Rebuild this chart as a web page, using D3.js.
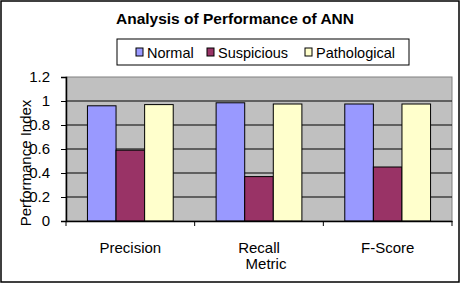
<!DOCTYPE html>
<html>
<head>
<meta charset="utf-8">
<style>
  body { margin: 0; background: #fff; }
  svg text { font-family: "Liberation Sans", Arial, sans-serif; fill: #000; }
</style>
</head>
<body>
<svg width="461" height="284"></svg>
<script src="https://cdn.jsdelivr.net/npm/d3@7/dist/d3.min.js"></script>
<script>
var metrics = ["Precision", "Recall", "F-Score"];
var seriesNames = ["Normal", "Suspicious", "Pathological"];
var normal = [0.96, 0.985, 0.975];
var suspicious = [0.59, 0.37, 0.45];
var pathological = [0.97, 0.975, 0.975];
var yTicks = [0, 0.2, 0.4, 0.6, 0.8, 1, 1.2];
var colors = ["#9999ff", "#993366", "#ffffcc"];

var values = [normal, suspicious, pathological];

var svg = d3.select("svg");

// outer chart border
svg.append("rect")
    .attr("x", 1).attr("y", 1)
    .attr("width", 458).attr("height", 281)
    .attr("fill", "#fff")
    .attr("stroke", "#000")
    .attr("stroke-width", 1.5);

var pLeft = 66, pRight = 452, pTop = 77, pBottom = 221;

var x = d3.scaleBand().domain(metrics).range([pLeft, pRight]);
var gap = x.bandwidth() * 0.75 / 4.5;
var inner = d3.scaleBand().domain(d3.range(3)).range([gap, x.bandwidth() - gap]);
var y = d3.scaleLinear().domain([0, 1.2]).range([pBottom, pTop]);

// plot area
svg.append("rect")
    .attr("x", pLeft).attr("y", pTop)
    .attr("width", pRight - pLeft).attr("height", pBottom - pTop)
    .attr("fill", "#c0c0c0")
    .attr("stroke", "#808080");

// gridlines
svg.append("g")
  .selectAll("line")
  .data(yTicks.filter(function(d) { return d > 0 && d < 1.2; }))
  .enter().append("line")
    .attr("x1", pLeft).attr("x2", pRight)
    .attr("y1", function(d) { return y(d); })
    .attr("y2", function(d) { return y(d); })
    .attr("stroke", "#000")
    .attr("stroke-width", 1);

// bars
metrics.forEach(function(m, i) {
  values.forEach(function(s, j) {
    svg.append("rect")
      .attr("x", x(m) + inner(j))
      .attr("y", y(s[i]))
      .attr("width", inner.bandwidth())
      .attr("height", y(0) - y(s[i]))
      .attr("fill", colors[j])
      .attr("stroke", "#000")
      .attr("stroke-width", 1);
  });
});

// y axis
var yAxis = svg.append("g")
    .attr("transform", "translate(" + pLeft + ",0)")
    .call(d3.axisLeft(y).tickValues(yTicks).tickSize(5).tickPadding(11)
      .tickFormat(function(d) { return d3.format("")(d); }));
yAxis.select(".domain").attr("stroke", "#000").attr("stroke-width", 1.5);
yAxis.selectAll(".tick line").attr("stroke", "#000");
yAxis.selectAll("text")
    .style("font-size", "15px")
    .style("font-family", "Liberation Sans, Arial, sans-serif");

// x axis
var xAxis = svg.append("g")
    .attr("transform", "translate(0," + pBottom + ")")
    .call(d3.axisBottom(x).tickSize(0).tickPadding(21));
xAxis.select(".domain").attr("stroke", "#000").attr("stroke-width", 1.5);
xAxis.selectAll("text")
    .style("font-size", "15px")
    .style("font-family", "Liberation Sans, Arial, sans-serif");
svg.append("g")
  .selectAll("line")
  .data(d3.range(metrics.length + 1))
  .enter().append("line")
    .attr("x1", function(d) { return pLeft + d * x.step(); })
    .attr("x2", function(d) { return pLeft + d * x.step(); })
    .attr("y1", pBottom).attr("y2", pBottom + 5)
    .attr("stroke", "#000");

// axis titles
svg.append("text")
    .attr("x", 266).attr("y", 269)
    .attr("text-anchor", "middle")
    .style("font-size", "15px")
    .text("Metric");

svg.append("text")
    .attr("transform", "translate(31,163) rotate(-90)")
    .attr("text-anchor", "middle")
    .style("font-size", "15px")
    .text("Performance Index");

// title
svg.append("text")
    .attr("x", 235).attr("y", 24)
    .attr("text-anchor", "middle")
    .style("font-size", "15.5px")
    .style("font-weight", "bold")
    .text("Analysis of Performance of ANN");

// legend
var legend = svg.append("g");
legend.append("rect")
    .attr("x", 117).attr("y", 39)
    .attr("width", 292).attr("height", 26)
    .attr("fill", "#fff")
    .attr("stroke", "#000");
var legendX = [136, 207, 305];
seriesNames.forEach(function(name, j) {
  legend.append("rect")
    .attr("x", legendX[j]).attr("y", 48)
    .attr("width", 7).attr("height", 8)
    .attr("fill", colors[j])
    .attr("stroke", "#000");
  legend.append("text")
    .attr("x", legendX[j] + 11).attr("y", 58)
    .style("font-size", "14.5px")
    .text(name);
});
</script>
</body>
</html>
